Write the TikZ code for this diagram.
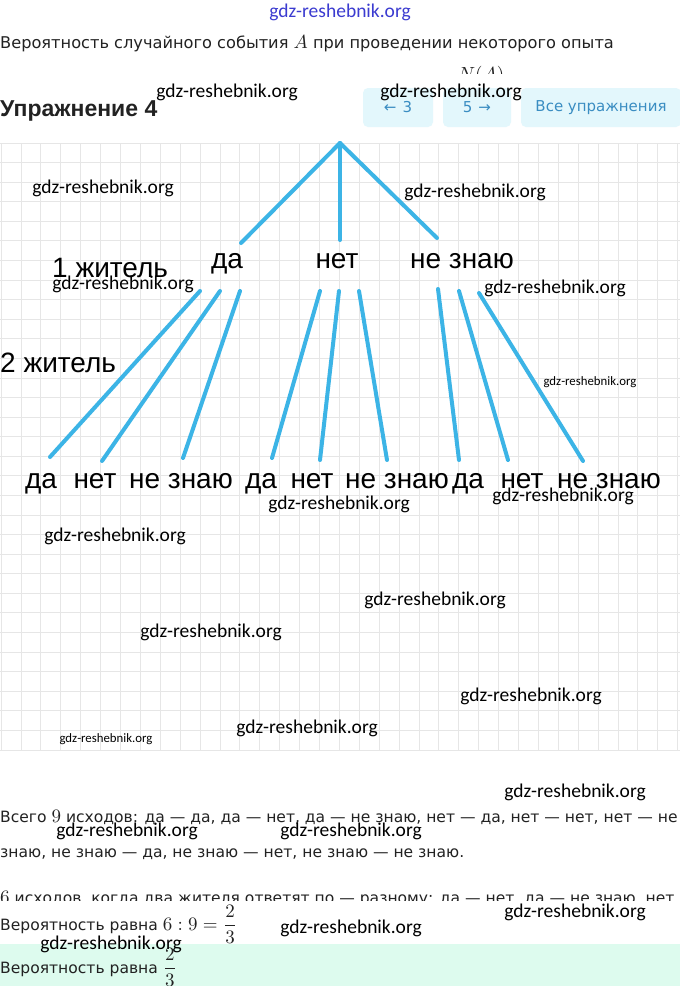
\documentclass[tikz,border=0pt]{standalone}
\usepackage{amsmath}
\usepackage{fontspec}
\setmainfont{Liberation Sans}
\newfontfamily\bodyfont{DejaVu Sans}
\newfontfamily\wmfont{Carlito}
\definecolor{treeblue}{HTML}{3CB4E6}
\definecolor{gridc}{HTML}{E6E6E6}
\definecolor{txt}{HTML}{222222}
\definecolor{btnbg}{HTML}{E3F7FC}
\definecolor{btntxt}{HTML}{3A8DC2}
\definecolor{greenband}{HTML}{DDFBEE}
\definecolor{wmblue}{HTML}{3B3BD0}
\newcommand{\mth}[1]{{\fontsize{10}{12}\selectfont\scalebox{1.9}{$#1$}}}
\begin{document}
\begin{tikzpicture}[x=1pt,y=-1pt,
  branch/.style={treeblue, line width=4pt, line cap=round},
  lbl/.style={font=\fontsize{28}{30}\selectfont, anchor=base, inner sep=0pt, text=black},
  wmark/.style={font=\wmfont\fontsize{19.5}{20}\selectfont, inner sep=0pt, text=black},
  wsmall/.style={font=\wmfont\fontsize{12.8}{13}\selectfont, inner sep=0pt, text=black},
  bodytxt/.style={font=\bodyfont\fontsize{15.55}{18}\selectfont, text=txt, anchor=base west, inner sep=0pt},
  btn/.style={fill=btnbg, rounded corners=5pt, draw=none},
  btnlabel/.style={font=\bodyfont\fontsize{15}{16}\selectfont, text=btntxt, inner sep=0pt},
]
\useasboundingbox (0,0) rectangle (680,986);
\fill[white] (0,0) rectangle (680,986);

% graph paper
\foreach \k in {0,...,34} \draw[gridc, line width=0.9pt] ({1.1+19.9*\k},143) -- ({1.1+19.9*\k},750);
\foreach \k in {0,...,31} \draw[gridc, line width=0.9pt] (0,{143+19.58*\k}) -- (680,{143+19.58*\k});

% header text
\node[bodytxt, font=\bodyfont\fontsize{16.2}{18}\selectfont] (intro) at (0,48) {Вероятность случайного события \mth{A} при проведении некоторого опыта};
\node[inner sep=0pt, anchor=base, text=txt] (na) at (481,80) {\mth{N(A)}};
\fill[white] (0,74) rectangle (680,142);
\node[anchor=base west, inner sep=0pt, text=txt, font=\bfseries\fontsize{23}{25}\selectfont] (title) at (0,116) {Упражнение 4};
\node[btn, minimum width=70pt, minimum height=39pt] (b1) at (398,107.5) {};
\node[btn, minimum width=68pt, minimum height=39pt] (b2) at (477,107.5) {};
\node[btn, minimum width=160pt, minimum height=39pt] (b3) at (601,107.5) {};
\node[btnlabel] at (b1) {←\hspace{6pt}3};
\node[btnlabel] at (b2) {5\hspace{6pt}→};
\node[btnlabel] at (b3) {Все упражнения};

% tree
\coordinate (r) at (340,143);
\coordinate (a) at (241,243);
\coordinate (b) at (340,240);
\coordinate (c) at (437,238);
\draw[branch] (r) -- (a);
\draw[branch] (r) -- (b);
\draw[branch] (r) -- (c);
\node[lbl] (L1a) at (227,268) {да};
\node[lbl] (L1b) at (337,268) {нет};
\node[lbl] (L1c) at (462,268) {не знаю};
\node[lbl, anchor=base west] (z1) at (52,277) {1 житель};
\node[lbl, anchor=base west] (z2) at (0,372) {2 житель};

\coordinate (a1) at (200,291); \coordinate (a2) at (220,291); \coordinate (a3) at (240,291);
\coordinate (b1s) at (320,291); \coordinate (b2s) at (339,291); \coordinate (b3s) at (359,291);
\coordinate (c1) at (438,289); \coordinate (c2) at (459,291); \coordinate (c3) at (479,293);
\coordinate (ea1) at (50,457); \coordinate (ea2) at (102,461); \coordinate (ea3) at (183,458);
\coordinate (eb1) at (272,458); \coordinate (eb2) at (320,460); \coordinate (eb3) at (387,460);
\coordinate (ec1) at (459,460); \coordinate (ec2) at (508,460); \coordinate (ec3) at (583,461);
\foreach \s/\e in {a1/ea1,a2/ea2,a3/ea3,b1s/eb1,b2s/eb2,b3s/eb3,c1/ec1,c2/ec2,c3/ec3}
  \draw[branch] (\s) -- (\e);

\node[lbl] (m1) at (41,488) {да};
\node[lbl] (m2) at (95,488) {нет};
\node[lbl] (m3) at (181,488) {не знаю};
\node[lbl] (m4) at (261,488) {да};
\node[lbl] (m5) at (312,488) {нет};
\node[lbl] (m6) at (397,488) {не знаю};
\node[lbl] (m7) at (468,488) {да};
\node[lbl] (m8) at (522,488) {нет};
\node[lbl] (m9) at (609,488) {не знаю};

% solution text
\node[bodytxt] (t1) at (0,822) {Всего \mth{9} исходов: да — да, да — нет, да — не знаю, нет — да, нет — нет, нет — не};
\node[bodytxt] (t2) at (0,857) {знаю, не знаю — да, не знаю — нет, не знаю — не знаю.};
\node[bodytxt] (t3) at (0,903) {\mth{6} исходов, когда два жителя ответят по — разному: да — нет, да — не знаю, нет};
\fill[white] (0,901) rectangle (680,944);
\node[bodytxt] (t4) at (0,930) {Вероятность равна \mth{6:9=\dfrac{2}{3}}};
\fill[greenband] (0,944) rectangle (680,986);
\begin{scope}
\clip (0,944) rectangle (680,986);
\node[bodytxt] (t5) at (0,973) {Вероятность равна \mth{\dfrac{2}{3}}};
\end{scope}

% watermarks
\node[wmark, text=wmblue] (w0) at (340,12) {gdz-reshebnik.org};
\foreach \x/\y [count=\i] in {227/92,451/92,103/188,475/192,123/284,555/288,339/504,563/496,115/536,435/600,211/632,531/696,307/728,575/792,127/831,351/831,575/912,351/928,111/944}
  \node[wmark] (w\i) at (\x,\y) {gdz-reshebnik.org};
\node[wsmall] (ws1) at (590,382) {gdz-reshebnik.org};
\node[wsmall] (ws2) at (106,739) {gdz-reshebnik.org};
\end{tikzpicture}
\end{document}
